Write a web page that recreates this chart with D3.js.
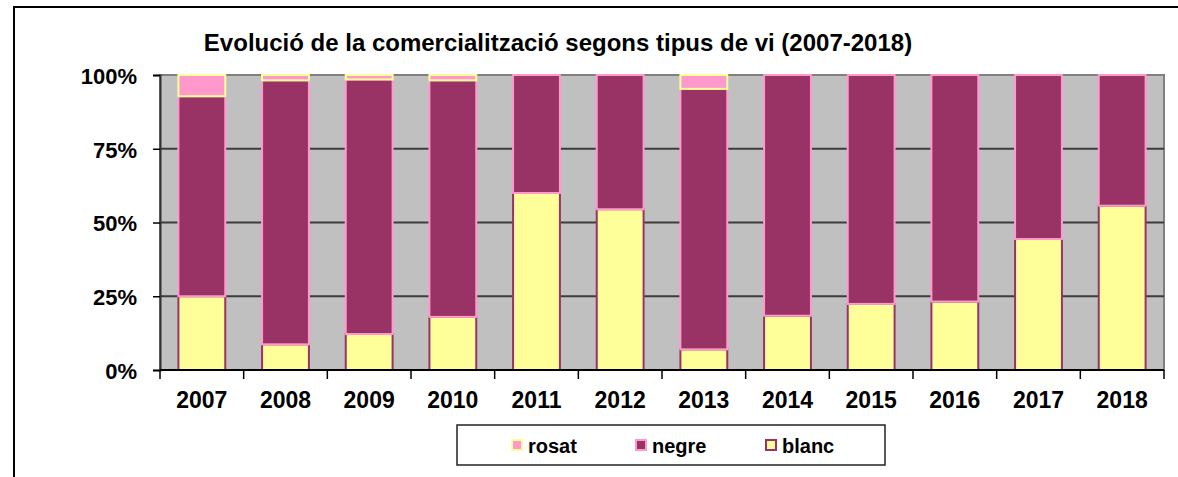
<!DOCTYPE html>
<html>
<head>
<meta charset="utf-8">
<script src="https://cdn.jsdelivr.net/npm/d3@7"></script>
<style>
  body { margin: 0; background: #fff; }
  text { font-family: Arial, "Liberation Sans", sans-serif; font-weight: bold; fill: #000; }
</style>
</head>
<body>
<div id="viz"></div>
<script>
const years = ["2007", "2008", "2009", "2010", "2011", "2012", "2013", "2014", "2015", "2016", "2017", "2018"]
const blanc = [25, 8.7, 12.2, 18, 60, 54.5, 7, 18.4, 22.4, 23.2, 44.4, 55.7]
const negre = [67.8, 89.5, 86.3, 80.2, 40, 45.5, 88.3, 81.6, 77.6, 76.8, 55.6, 44.3]
const rosat = [7.2, 1.8, 1.5, 1.8, 0, 0, 4.7, 0, 0, 0, 0, 0]
const yTicks = [0, 25, 50, 75, 100]
const seriesKeys = ["blanc", "negre", "rosat"]
const legendKeys = ["rosat", "negre", "blanc"]

const fills = { rosat: "#ff99cc", negre: "#993366", blanc: "#ffff99" }
const strokes = { rosat: "#ffff99", negre: "#ff99cc", blanc: "#993366" }

const width = 1178
const height = 477
const plot = { left: 160, right: 1164, top: 75, bottom: 370 }

const svg = d3.select("#viz").append("svg")
  .attr("width", width)
  .attr("height", height)
  .style("display", "block")
  .style("background-color", "#fff")

// outer frame (only top/left visible in the crop)
svg.append("rect")
  .attr("x", 14).attr("y", 7)
  .attr("width", 1300).attr("height", 600)
  .attr("fill", "none").attr("stroke", "#000").attr("stroke-width", 2)

svg.append("text")
  .attr("x", 558).attr("y", 51)
  .attr("text-anchor", "middle")
  .style("font-size", "24px")
  .text("Evolució de la comercialització segons tipus de vi (2007-2018)")

const x = d3.scaleBand()
  .domain(years)
  .range([plot.left, plot.right])
  .paddingInner(0.44)
  .paddingOuter(0.22)

const y = d3.scaleLinear()
  .domain([0, 100])
  .range([plot.bottom, plot.top])

// plot background
svg.append("rect")
  .attr("x", plot.left).attr("y", plot.top)
  .attr("width", plot.right - plot.left).attr("height", plot.bottom - plot.top)
  .attr("fill", "#c0c0c0")
  .attr("stroke", "#808080").attr("stroke-width", 2)

// gridlines
svg.append("g").selectAll("line")
  .data(yTicks.filter(d => d > 0 && d < 100))
  .enter().append("line")
  .attr("x1", plot.left).attr("x2", plot.right)
  .attr("y1", d => y(d)).attr("y2", d => y(d))
  .attr("stroke", "#3c3c3c").attr("stroke-width", 2)

// stacked bars
const table = years.map((yr, i) => ({ year: yr, blanc: blanc[i], negre: negre[i], rosat: rosat[i] }))
const stacked = d3.stack().keys(seriesKeys)(table)

svg.append("g").selectAll("g")
  .data(stacked)
  .enter().append("g")
  .attr("fill", d => fills[d.key])
  .attr("stroke", d => strokes[d.key])
  .attr("stroke-width", 2)
  .selectAll("rect")
  .data(d => d.filter(s => s[1] - s[0] > 0))
  .enter().append("rect")
  .attr("x", d => x(d.data.year))
  .attr("width", x.bandwidth())
  .attr("y", d => y(d[1]))
  .attr("height", d => y(d[0]) - y(d[1]))

// y axis
const yAxis = svg.append("g")
  .attr("transform", `translate(${plot.left},0)`)
  .call(d3.axisLeft(y).tickValues(yTicks).tickSize(7).tickPadding(16).tickFormat(d => d + "%"))
yAxis.select(".domain").attr("stroke", "#333").attr("stroke-width", 2)
yAxis.selectAll(".tick line").attr("stroke", "#000").attr("stroke-width", 1.5)
yAxis.selectAll(".tick text")
  .attr("dy", "0.38em")
  .style("font-size", "22px")
  .style("font-family", "Arial, 'Liberation Sans', sans-serif")
  .style("font-weight", "bold")

// x axis
const xTicks = d3.range(years.length + 1).map(i => plot.left + i * x.step())
const xAxis = svg.append("g")
xAxis.append("line")
  .attr("x1", plot.left).attr("x2", plot.right)
  .attr("y1", plot.bottom).attr("y2", plot.bottom)
  .attr("stroke", "#000").attr("stroke-width", 2)
xAxis.selectAll(".tk")
  .data(xTicks)
  .enter().append("line")
  .attr("class", "tk")
  .attr("x1", d => d).attr("x2", d => d)
  .attr("y1", plot.bottom).attr("y2", plot.bottom + 9)
  .attr("stroke", "#000").attr("stroke-width", 1.5)
xAxis.selectAll("text")
  .data(years)
  .enter().append("text")
  .attr("x", d => x(d) + x.bandwidth() / 2)
  .attr("y", 408)
  .attr("text-anchor", "middle")
  .style("font-size", "23px")
  .text(d => d)

// legend
const legend = svg.append("g")
legend.append("rect")
  .attr("x", 457).attr("y", 425)
  .attr("width", 428).attr("height", 40)
  .attr("fill", "#fff").attr("stroke", "#222").attr("stroke-width", 1.5)

const legendX = { rosat: 511, negre: 635, blanc: 765 }
const item = legend.selectAll(".item")
  .data(legendKeys)
  .enter().append("g")
  .attr("class", "item")
  .attr("transform", d => `translate(${legendX[d]},440)`)
item.append("rect")
  .attr("x", 1).attr("y", 0)
  .attr("width", 10).attr("height", 10)
  .attr("fill", d => fills[d])
  .attr("stroke", d => strokes[d])
  .attr("stroke-width", 2)
item.append("text")
  .attr("x", 17).attr("y", 13)
  .style("font-size", "20px")
  .text(d => d)
</script>
</body>
</html>
